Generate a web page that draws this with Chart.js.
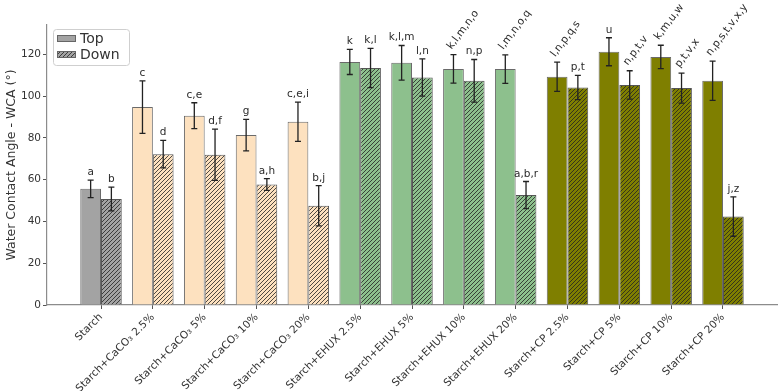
<!DOCTYPE html>
<html>
<head>
<meta charset="utf-8">
<script src="https://cdn.jsdelivr.net/npm/chart.js@4.4.0/dist/chart.umd.min.js"></script>
<style>
  html, body { margin: 0; padding: 0; background: #fff; }
  #wrap { width: 782px; height: 391px; }
</style>
</head>
<body>
<div id="wrap"><canvas id="chart" width="782" height="391"></canvas></div>
<script>
// data
const categories = [
  "Starch",
  "Starch+CaCO₃ 2.5%", "Starch+CaCO₃ 5%", "Starch+CaCO₃ 10%", "Starch+CaCO₃ 20%",
  "Starch+EHUX 2.5%", "Starch+EHUX 5%", "Starch+EHUX 10%", "Starch+EHUX 20%",
  "Starch+CP 2.5%", "Starch+CP 5%", "Starch+CP 10%", "Starch+CP 20%"
];
const groupOf = [0, 1, 1, 1, 1, 2, 2, 2, 2, 3, 3, 3, 3];
const topValues  = [55.6, 94.7, 90.6, 81.3, 87.7, 116.3, 115.9, 113.0, 112.9, 109.2, 121.2, 118.7, 107.3];
const topErrors  = [4.2, 12.6, 6.2, 7.5, 9.4, 6.0, 8.3, 6.8, 6.8, 7.0, 6.7, 5.6, 9.4];
const downValues = [50.7, 72.2, 71.9, 57.7, 47.5, 113.4, 108.9, 107.3, 52.6, 104.1, 105.3, 103.8, 42.3];
const downErrors = [5.7, 6.6, 12.3, 2.8, 9.6, 9.4, 8.9, 10.2, 6.5, 5.8, 6.8, 7.2, 9.4];
const topLetters  = ["a", "c", "c,e", "g", "c,e,i", "k", "k,l,m", "k,l,m,n,o", "l,m,n,o,q", "l,n,p,q,s", "u", "k,m,u,w", "n,p,s,t,v,x,y"];
const downLetters = ["b", "d", "d,f", "a,h", "b,j", "k,l", "l,n", "n,p", "a,b,r", "p,t", "n,p,t,v", "p,t,v,x", "j,z"];
const seriesNames = ["Top", "Down"];
const yTicks = [0, 20, 40, 60, 80, 100, 120];

const groupColors = ["#a3a3a3", "#fde1bf", "#8dc08d", "#7f7f00"];
const FONT = "'DejaVu Sans', sans-serif";

// hatch '////' pattern on the group colour
function hatch(color) {
  const c = document.createElement("canvas");
  c.width = 4; c.height = 4;
  const g = c.getContext("2d");
  g.fillStyle = color;
  g.fillRect(0, 0, 4, 4);
  g.strokeStyle = "rgba(35,35,35,0.8)";
  g.lineWidth = 1;
  g.beginPath();
  g.moveTo(0, 4); g.lineTo(4, 0);
  g.moveTo(-1, 1); g.lineTo(1, -1);
  g.moveTo(3, 5); g.lineTo(5, 3);
  g.stroke();
  return g.createPattern(c, "repeat");
}
const hatchColors = groupColors.map(hatch);

// error bars + letters
const overlay = {
  id: "overlay",
  afterDatasetsDraw(chart) {
    const ctx = chart.ctx, y = chart.scales.y;
    const sets = [[topValues, topErrors, topLetters], [downValues, downErrors, downLetters]];
    ctx.save();
    sets.forEach(([vals, errs, letters], d) => {
      chart.getDatasetMeta(d).data.forEach((bar, i) => {
        const x = bar.x;
        const hi = y.getPixelForValue(vals[i] + errs[i]);
        const lo = y.getPixelForValue(vals[i] - errs[i]);
        ctx.strokeStyle = "#222";
        ctx.lineWidth = 1.3;
        ctx.beginPath();
        ctx.moveTo(x, hi); ctx.lineTo(x, lo);
        ctx.moveTo(x - 3, hi); ctx.lineTo(x + 3, hi);
        ctx.moveTo(x - 3, lo); ctx.lineTo(x + 3, lo);
        ctx.stroke();

        ctx.fillStyle = "#2b2b2b";
        ctx.font = "10.5px " + FONT;
        const txt = letters[i];
        if (txt.length > 5) {
          ctx.save();
          ctx.translate(x - 2, hi - 5);
          ctx.rotate(-53 * Math.PI / 180);
          ctx.textAlign = "left";
          ctx.textBaseline = "alphabetic";
          ctx.fillText(txt, 0, 0);
          ctx.restore();
        } else {
          ctx.textAlign = "center";
          ctx.textBaseline = "alphabetic";
          ctx.fillText(txt, x, hi - 5);
        }
      });
    });
    ctx.restore();
  },
  afterDraw(chart) {
    const ctx = chart.ctx;
    ctx.save();
    ctx.fillStyle = "rgba(255,255,255,0.9)";
    ctx.strokeStyle = "#cfcfcf";
    ctx.lineWidth = 1;
    ctx.beginPath();
    ctx.roundRect(53.5, 29.5, 76, 36, 3);
    ctx.fill();
    ctx.stroke();
    const fills = [groupColors[0], hatchColors[0]];
    seriesNames.forEach((name, k) => {
      const yy = 35 + k * 16;
      ctx.fillStyle = fills[k];
      ctx.fillRect(57, yy, 19, 7);
      ctx.strokeStyle = "#666";
      ctx.strokeRect(57.5, yy + 0.5, 18, 6);
      ctx.fillStyle = "#333";
      ctx.font = "14px " + FONT;
      ctx.textAlign = "left";
      ctx.textBaseline = "middle";
      ctx.fillText(name, 80, yy + 4);
    });
    ctx.restore();
  }
};

new Chart(document.getElementById("chart"), {
  type: "bar",
  data: {
    datasets: [
      {
        label: seriesNames[0],
        data: topValues.map((v, i) => ({ x: i, y: v })),
        backgroundColor: groupOf.map(g => groupColors[g]),
        borderColor: "#6a6a6a",
        borderWidth: 1
      },
      {
        label: seriesNames[1],
        data: downValues.map((v, i) => ({ x: i, y: v })),
        backgroundColor: groupOf.map(g => hatchColors[g]),
        borderColor: "#555",
        borderWidth: 1
      }
    ]
  },
  options: {
    responsive: false,
    animation: false,
    devicePixelRatio: 1,
    categoryPercentage: 0.8,
    barPercentage: 1.0,
    layout: { padding: { top: 25, right: 5, left: 0, bottom: 0 } },
    plugins: { legend: { display: false }, tooltip: { enabled: false } },
    scales: {
      x: {
        type: "linear",
        min: -1.042,
        max: 13.042,
        offset: false,
        afterBuildTicks: s => { s.ticks = categories.map((c, i) => ({ value: i })); },
        afterFit: s => { s.height = 86; },
        ticks: {
          callback: v => categories[v],
          autoSkip: false,
          minRotation: 45,
          maxRotation: 45,
          padding: 2,
          color: "#333",
          font: { family: FONT, size: 10.5 }
        },
        grid: { display: true, offset: false, drawOnChartArea: false, drawTicks: true, tickLength: 4, tickColor: "#555" },
        border: { display: true, color: "#8c8c8c", width: 1.2 }
      },
      y: {
        min: 0,
        max: 134,
        afterBuildTicks: s => { s.ticks = yTicks.map(v => ({ value: v })); },
        afterFit: s => { s.width = 47; },
        ticks: {
          padding: 2,
          color: "#333",
          font: { family: FONT, size: 10.5 }
        },
        grid: { display: true, drawOnChartArea: false, drawTicks: true, tickLength: 4, tickColor: "#555" },
        border: { display: true, color: "#8c8c8c", width: 1.2 },
        title: {
          display: true,
          text: "Water Contact Angle - WCA (°)",
          color: "#333",
          font: { family: FONT, size: 12.5 },
          padding: { top: 4, bottom: 0 }
        }
      }
    }
  },
  plugins: [overlay]
});
</script>
</body>
</html>
